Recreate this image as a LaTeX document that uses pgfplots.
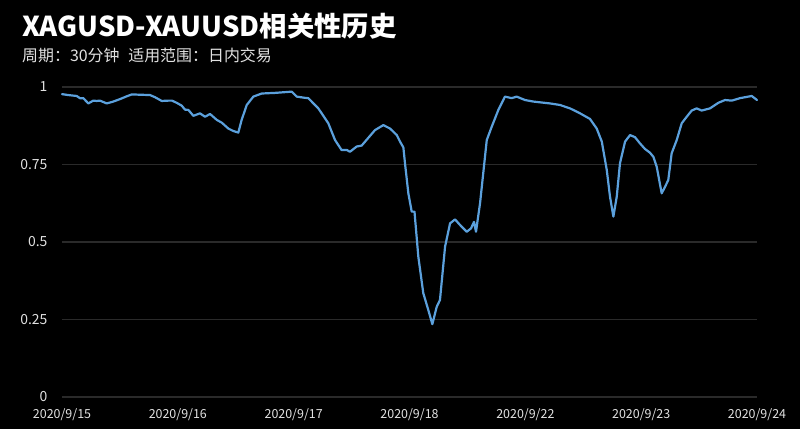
\documentclass[border=0pt]{standalone}
\usepackage{fontspec}
\setmainfont{Noto Sans CJK SC}
\usepackage{pgfplots}
\pgfplotsset{compat=1.18}
\definecolor{linecol}{RGB}{91,160,220}
\definecolor{gridcol}{RGB}{42,42,42}
\definecolor{ticktxt}{RGB}{225,225,225}
\begin{document}
\begin{tikzpicture}[x=1bp,y=1bp]
\fill[black] (0,0) rectangle (800,429);
\useasboundingbox (0,0) rectangle (800,429);
\node[anchor=base west, inner sep=0, text=white, font=\fontsize{27.5}{30}\selectfont\bfseries] at (22,392) {XAGUSD-XAUUSD相关性历史};
\node[anchor=base west, inner sep=0, text=ticktxt, font=\fontsize{16}{18}\selectfont] at (22,368) {周期：30分钟\hspace{0.55em}适用范围：日内交易};
\begin{axis}[
  at={(62bp,32bp)}, anchor=south west,
  scale only axis, width=695bp, height=310bp,
  xmin=0, xmax=6, ymin=0, ymax=1,
  axis line style={draw=none},
  tick style={draw=none},
  ymajorgrids, grid style={gridcol, line width=1.2bp},
  ytick={0,0.25,0.5,0.75,1},
  yticklabels={0,0.25,0.5,0.75,1},
  xtick={0,1,2,3,4,5,6},
  xticklabels={2020/9/15,2020/9/16,2020/9/17,2020/9/18,2020/9/22,2020/9/23,2020/9/24},
  /pgf/number format/assume math mode=true,
  yticklabel style={font=\fontsize{14}{16}\selectfont, text=ticktxt, xshift=-11bp},
  xticklabel style={font=\fontsize{12.5}{14}\selectfont, text=ticktxt, yshift=-8bp},
  clip=false,
]
\addplot[draw=linecol, line width=2.2bp, line join=round, line cap=round, no marks] coordinates {
(0,0.977) (0.054,0.974) (0.127,0.971) (0.155,0.964) (0.184,0.964) (0.227,0.947) (0.270,0.956) (0.300,0.955) (0.328,0.956) (0.386,0.947) (0.443,0.953) (0.501,0.961) (0.559,0.970) (0.602,0.976) (0.760,0.974) (0.803,0.967) (0.861,0.955) (0.918,0.956) (0.950,0.956) (0.990,0.949) (1.033,0.940) (1.062,0.927) (1.091,0.926) (1.134,0.907) (1.191,0.915) (1.235,0.904) (1.278,0.913) (1.336,0.894) (1.379,0.885) (1.436,0.866) (1.479,0.858) (1.522,0.853) (1.551,0.894) (1.595,0.942) (1.652,0.969) (1.724,0.979) (1.839,0.981) (1.983,0.985) (2.026,0.969) (2.098,0.965) (2.126,0.964) (2.213,0.931) (2.299,0.883) (2.357,0.829) (2.413,0.797) (2.458,0.797) (2.486,0.791) (2.544,0.808) (2.587,0.811) (2.702,0.861) (2.774,0.877) (2.832,0.866) (2.890,0.845) (2.918,0.824) (2.947,0.805) (2.961,0.754) (2.990,0.657) (3.019,0.598) (3.043,0.598) (3.076,0.453) (3.119,0.335) (3.162,0.281) (3.197,0.235) (3.235,0.291) (3.263,0.313) (3.307,0.485) (3.350,0.560) (3.393,0.573) (3.436,0.555) (3.494,0.533) (3.531,0.544) (3.557,0.565) (3.574,0.533) (3.609,0.625) (3.667,0.829) (3.710,0.872) (3.767,0.926) (3.824,0.969) (3.882,0.964) (3.925,0.969) (3.997,0.958) (4.069,0.953) (4.213,0.947) (4.299,0.942) (4.386,0.931) (4.472,0.915) (4.558,0.897) (4.616,0.866) (4.660,0.824) (4.703,0.732) (4.731,0.646) (4.760,0.582) (4.789,0.646) (4.817,0.754) (4.861,0.824) (4.904,0.845) (4.947,0.838) (4.990,0.818) (5.033,0.800) (5.076,0.788) (5.105,0.775) (5.134,0.743) (5.177,0.657) (5.206,0.678) (5.234,0.700) (5.263,0.786) (5.307,0.829) (5.350,0.883) (5.393,0.904) (5.436,0.924) (5.479,0.931) (5.522,0.924) (5.594,0.931) (5.666,0.949) (5.724,0.958) (5.782,0.956) (5.853,0.964) (5.954,0.971) (6,0.958)
};
\end{axis}
\end{tikzpicture}
\end{document}
